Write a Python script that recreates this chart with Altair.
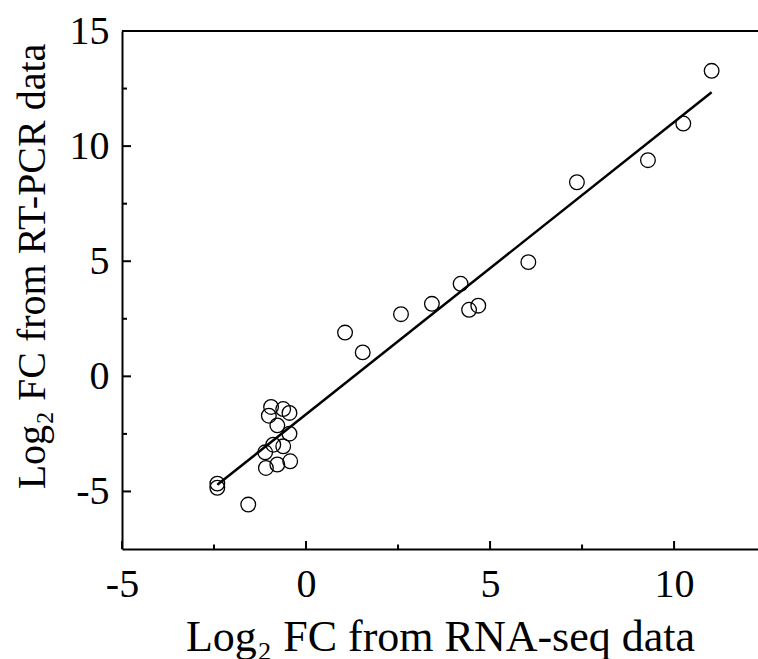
import altair as alt
import pandas as pd

# RNA-seq log2 FC (x) vs RT-PCR log2 FC (y)
rna_seq = [-0.95, -0.62, -0.45, -1.01, -0.78, -0.45, -0.89, -0.62, -1.11, -1.09,
           -0.78, -0.43, -2.41, -2.41, -1.57, 1.06, 1.54, 2.58, 3.42, 4.20,
           4.43, 4.68, 6.04, 7.36, 9.29, 10.25, 11.02]
rt_pcr = [-1.33, -1.42, -1.59, -1.71, -2.13, -2.49, -2.97, -3.04, -3.30, -3.98,
          -3.83, -3.69, -4.66, -4.84, -5.57, 1.90, 1.04, 2.70, 3.15, 4.02,
          2.89, 3.07, 4.96, 8.43, 9.39, 10.98, 13.27]

x_major = [-5, 0, 5, 10]
x_minor = [-2.5, 2.5, 7.5]
y_major = [-5, 0, 5, 10, 15]
y_minor = [-2.5, 2.5, 7.5, 12.5]

W, H = 636, 518
FONT = "Liberation Serif"

df = pd.DataFrame({"x": rna_seq, "y": rt_pcr})

xscale = alt.Scale(domain=[-5, 12.28], nice=False, zero=False)
yscale = alt.Scale(domain=[-7.5, 15], nice=False, zero=False)

xaxis = alt.Axis(values=x_major, grid=False, ticks=False, domainColor="black",
                 domainWidth=2, labelFont=FONT, labelFontSize=40, labelColor="black",
                 labelPadding=15, labelFlush=False, labelOverlap=False,
                 labelExpr="'' + datum.value",
                 title="Log₂ FC from RNA-seq data", titleFont=FONT, titleFontSize=44,
                 titleFontWeight="normal", titleColor="black",
                 titleBaseline="alphabetic", titleY=101, titleX=W / 2, titleAlign="center")
yaxis = alt.Axis(values=y_major, grid=False, ticks=False, domainColor="black",
                 domainWidth=2, labelFont=FONT, labelFontSize=40, labelColor="black",
                 labelPadding=13, labelFlush=False, labelOverlap=False,
                 labelExpr="'' + datum.value",
                 title="Log₂ FC from RT-PCR data", titleFont=FONT, titleFontSize=40,
                 titleFontWeight="normal", titleColor="black",
                 titleAngle=-90, titleX=-90, titleY=235, titleAlign="center",
                 titleBaseline="middle")

points = alt.Chart(df).mark_point(
    shape="circle", filled=False, size=215, stroke="black", strokeWidth=1.3, opacity=1
).encode(
    x=alt.X("x:Q", scale=xscale, axis=xaxis),
    y=alt.Y("y:Q", scale=yscale, axis=yaxis),
)

fit = alt.Chart(df).transform_regression("x", "y").mark_line(
    color="black", strokeWidth=2.5
).encode(x=alt.X("x:Q"), y=alt.Y("y:Q"))

xt_major = alt.Chart(pd.DataFrame({"x": x_major})).mark_rule(
    color="black", strokeWidth=2).encode(
    x=alt.X("x:Q"), y=alt.value(H), y2=alt.value(H - 8))
xt_minor = alt.Chart(pd.DataFrame({"x": x_minor})).mark_rule(
    color="black", strokeWidth=2).encode(
    x=alt.X("x:Q"), y=alt.value(H), y2=alt.value(H - 4.5))
yt_major = alt.Chart(pd.DataFrame({"y": y_major})).mark_rule(
    color="black", strokeWidth=2).encode(
    y=alt.Y("y:Q"), x=alt.value(0), x2=alt.value(9))
yt_minor = alt.Chart(pd.DataFrame({"y": y_minor})).mark_rule(
    color="black", strokeWidth=2).encode(
    y=alt.Y("y:Q"), x=alt.value(0), x2=alt.value(5))
top = alt.Chart(pd.DataFrame({"a": [0]})).mark_rule(
    color="black", strokeWidth=2).encode(
    y=alt.value(0), x=alt.value(0), x2=alt.value(W))

chart = alt.layer(points, fit, xt_major, xt_minor, yt_major, yt_minor, top).properties(
    width=W, height=H,
    padding={"left": 122, "top": 31, "right": 0, "bottom": 110},
    autosize=alt.AutoSizeParams(type="none"),
    background="white",
).configure_view(stroke=None)

chart.save("out.html", embed_options={"renderer": "svg", "actions": False})
